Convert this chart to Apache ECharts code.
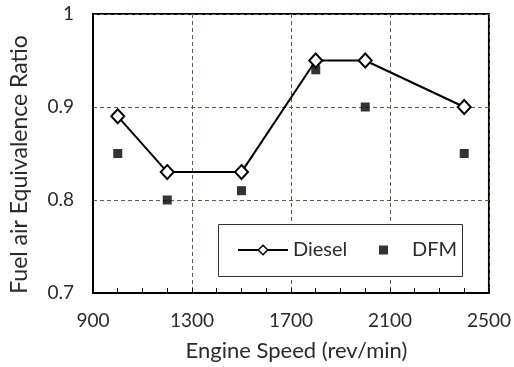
<!DOCTYPE html>
<html>
<head>
<meta charset="utf-8">
<script src="https://cdn.jsdelivr.net/npm/echarts@6/dist/echarts.min.js"></script>
<style>
  html, body { margin: 0; padding: 0; background: #fff; }
  #chart { width: 514px; height: 367px; }
</style>
</head>
<body>
<div id="chart"></div>
<script>
// Engine speed (rev/min) of each operating point
const engineSpeed = [1000, 1200, 1500, 1800, 2000, 2400];
// Fuel-air equivalence ratio per fuel mode
const dieselRatio = [0.89, 0.83, 0.83, 0.95, 0.95, 0.90];
const dfmRatio = [0.85, 0.80, 0.81, 0.94, 0.90, 0.85];

const xTicks = [900, 1300, 1700, 2100, 2500];
const yTicks = [0.7, 0.8, 0.9, 1];

const FONT = 'Lato';
const TEXT = '#2b2b2b';
const GRID_DASH = { color: '#6b5a3a', width: 1, type: [4, 3] };

const pairs = (xs, ys) => xs.map((x, i) => [x, ys[i]]);

const chart = echarts.init(document.getElementById('chart'), null, { renderer: 'canvas' });

chart.setOption({
  animation: false,
  backgroundColor: '#fff',
  textStyle: { fontFamily: FONT },
  grid: {
    left: 91, right: 24, top: 14, bottom: 74,
    show: true, borderColor: '#000', borderWidth: 2, backgroundColor: 'transparent'
  },
  // frame around the two legend entries
  graphic: [{
    type: 'rect',
    left: 218, top: 224, z: 3,
    shape: { width: 244, height: 52 },
    style: { fill: '#fff', stroke: '#333', lineWidth: 1 }
  }],
  legend: [
    {
      left: 237, top: 239, padding: 0, z: 5,
      itemWidth: 50, itemHeight: 12,
      lineStyle: { width: 2, color: '#000' },
      itemStyle: { color: '#fff', borderColor: '#000', borderWidth: 1.5 },
      textStyle: { fontFamily: FONT, fontSize: 20, lineHeight: 22, color: TEXT },
      data: ['Diesel']
    },
    {
      left: 379, top: 239, padding: 0, z: 5,
      itemWidth: 9, itemHeight: 9,
      icon: 'rect',
      itemStyle: { color: '#000' },
      textStyle: { fontFamily: FONT, fontSize: 20, lineHeight: 22, color: TEXT, padding: [0, 0, 0, 19] },
      data: ['DFM']
    }
  ],
  xAxis: {
    type: 'value',
    min: xTicks[0], max: xTicks[xTicks.length - 1],
    interval: xTicks[1] - xTicks[0],
    name: 'Engine Speed (rev/min)',
    nameLocation: 'middle', nameGap: 47,
    nameTextStyle: { fontFamily: FONT, fontSize: 22, color: TEXT, padding: [0, 0, 0, 11] },
    axisLine: { show: true, lineStyle: { color: '#000', width: 2 } },
    axisTick: { show: true, inside: true, length: 5, lineStyle: { color: '#000', width: 1 } },
    minorTick: { show: true, splitNumber: 4, length: 5, lineStyle: { color: '#000', width: 1 } },
    axisLabel: { margin: 18, fontFamily: FONT, fontSize: 19, color: TEXT, formatter: v => String(v) },
    splitLine: { show: true, lineStyle: GRID_DASH }
  },
  yAxis: {
    type: 'value',
    min: yTicks[0], max: yTicks[yTicks.length - 1],
    interval: 0.1,
    name: 'Fuel air Equivalence Ratio',
    nameLocation: 'middle', nameGap: 62,
    nameTextStyle: { fontFamily: FONT, fontSize: 23, color: TEXT, padding: [0, 22, 0, 0] },
    axisLine: { show: true, lineStyle: { color: '#000', width: 2 } },
    axisTick: { show: false },
    axisLabel: {
      margin: 19, fontFamily: FONT, fontSize: 19, color: TEXT,
      formatter: v => (Math.abs(v - 1) < 1e-9 ? '1' : v.toFixed(1))
    },
    splitLine: { show: true, lineStyle: GRID_DASH }
  },
  series: [
    {
      name: 'DFM',
      type: 'scatter',
      data: pairs(engineSpeed, dfmRatio),
      symbol: 'rect',
      symbolSize: 9,
      itemStyle: { color: '#000' },
      z: 2
    },
    {
      name: 'Diesel',
      type: 'line',
      data: pairs(engineSpeed, dieselRatio),
      symbol: 'diamond',
      symbolSize: [13, 14],
      showAllSymbol: true,
      itemStyle: { color: '#fff', borderColor: '#000', borderWidth: 2 },
      lineStyle: { color: '#000', width: 2 },
      z: 3
    }
  ]
});
</script>
</body>
</html>
